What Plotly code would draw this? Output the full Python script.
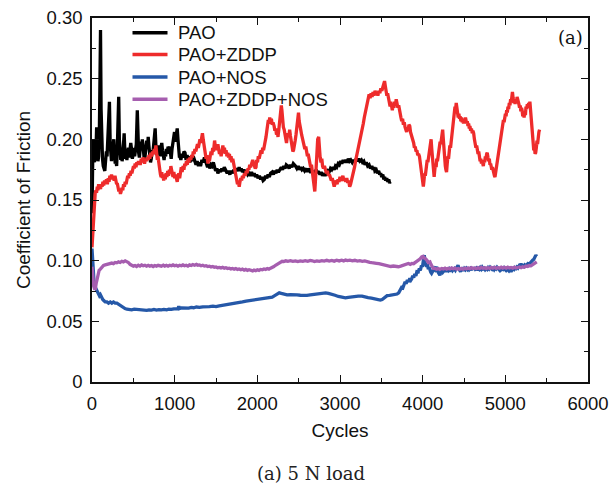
import plotly.graph_objects as go

# Friction traces at 5 N load: (cycle, coefficient of friction)
PAO = [
    (0, 0.139), (6, 0.172), (12, 0.200), (18, 0.188), (24, 0.196), (30, 0.181), (38, 0.192), (46, 0.185),
    (56, 0.210), (64, 0.190), (72, 0.182), (80, 0.186), (88, 0.200), (95, 0.240), (103, 0.290), (110, 0.225),
    (118, 0.190), (127, 0.184), (136, 0.178), (146, 0.176), (155, 0.174), (164, 0.182), (174, 0.190), (182, 0.186),
    (190, 0.196), (200, 0.205), (211, 0.231), (220, 0.196), (228, 0.186), (236, 0.182), (245, 0.190), (255, 0.197),
    (264, 0.200), (272, 0.188), (281, 0.180), (290, 0.182), (298, 0.178), (306, 0.192), (314, 0.215), (323, 0.235),
    (331, 0.200), (340, 0.186), (348, 0.183), (356, 0.190), (364, 0.182), (372, 0.186), (380, 0.195), (389, 0.205),
    (397, 0.191), (406, 0.184), (414, 0.188), (422, 0.183), (431, 0.189), (440, 0.193), (449, 0.185), (458, 0.190),
    (469, 0.197), (478, 0.192), (488, 0.184), (497, 0.187), (507, 0.193), (516, 0.186), (526, 0.190), (536, 0.196),
    (548, 0.224), (556, 0.200), (564, 0.189), (573, 0.185), (582, 0.192), (592, 0.198), (601, 0.193), (609, 0.200),
    (618, 0.194), (626, 0.187), (634, 0.182), (642, 0.186), (652, 0.193), (662, 0.199), (672, 0.192), (680, 0.202),
    (688, 0.195), (698, 0.186), (708, 0.181), (717, 0.184), (727, 0.191), (736, 0.188), (745, 0.196), (755, 0.200),
    (764, 0.209), (772, 0.196), (780, 0.187), (788, 0.192), (797, 0.189), (806, 0.195), (815, 0.190), (824, 0.186),
    (834, 0.193), (844, 0.197), (853, 0.191), (862, 0.186), (872, 0.183), (881, 0.189), (891, 0.186), (900, 0.192),
    (910, 0.188), (920, 0.194), (929, 0.190), (938, 0.194), (948, 0.188), (958, 0.184), (968, 0.192), (978, 0.198),
    (988, 0.202), (998, 0.206), (1008, 0.198), (1018, 0.204), (1031, 0.209), (1040, 0.200), (1050, 0.192), (1058, 0.185),
    (1064, 0.186), (1075, 0.183), (1088, 0.188), (1100, 0.185), (1112, 0.190), (1125, 0.189), (1138, 0.183), (1150, 0.187),
    (1162, 0.184), (1172, 0.186), (1185, 0.181), (1198, 0.185), (1210, 0.182), (1225, 0.186), (1242, 0.183), (1258, 0.179),
    (1272, 0.182), (1288, 0.178), (1300, 0.181), (1313, 0.178), (1330, 0.183), (1345, 0.181), (1360, 0.185), (1372, 0.182),
    (1383, 0.180), (1398, 0.177), (1412, 0.180), (1425, 0.176), (1440, 0.179), (1453, 0.178), (1468, 0.181), (1480, 0.177),
    (1495, 0.174), (1510, 0.176), (1523, 0.172), (1540, 0.175), (1555, 0.173), (1570, 0.176), (1585, 0.174), (1600, 0.177),
    (1617, 0.175), (1635, 0.172), (1650, 0.174), (1668, 0.171), (1685, 0.174), (1700, 0.172), (1715, 0.175), (1730, 0.173),
    (1748, 0.176), (1765, 0.174), (1780, 0.177), (1795, 0.174), (1805, 0.176), (1820, 0.173), (1838, 0.175), (1855, 0.172),
    (1870, 0.174), (1885, 0.171), (1898, 0.172), (1915, 0.170), (1930, 0.173), (1948, 0.170), (1962, 0.172), (1978, 0.169),
    (1992, 0.171), (2008, 0.168), (2025, 0.170), (2040, 0.167), (2055, 0.169), (2070, 0.166), (2086, 0.167), (2100, 0.170),
    (2115, 0.168), (2130, 0.171), (2145, 0.169), (2160, 0.172), (2180, 0.173), (2195, 0.171), (2210, 0.174), (2225, 0.172),
    (2240, 0.175), (2255, 0.173), (2273, 0.175), (2290, 0.177), (2305, 0.175), (2320, 0.178), (2335, 0.176), (2350, 0.179),
    (2367, 0.178), (2385, 0.176), (2400, 0.179), (2418, 0.177), (2435, 0.180), (2450, 0.178), (2461, 0.178), (2478, 0.176),
    (2495, 0.178), (2510, 0.175), (2525, 0.177), (2540, 0.175), (2555, 0.176), (2572, 0.174), (2590, 0.176), (2605, 0.173),
    (2620, 0.176), (2635, 0.174), (2648, 0.175), (2665, 0.172), (2680, 0.174), (2695, 0.172), (2710, 0.175), (2725, 0.173),
    (2742, 0.173), (2758, 0.171), (2772, 0.173), (2788, 0.170), (2805, 0.172), (2820, 0.170), (2836, 0.172), (2852, 0.174),
    (2868, 0.173), (2885, 0.176), (2900, 0.175), (2915, 0.177), (2930, 0.175), (2945, 0.178), (2960, 0.177), (2978, 0.180),
    (2992, 0.179), (3008, 0.182), (3022, 0.180), (3038, 0.183), (3055, 0.181), (3070, 0.183), (3085, 0.181), (3100, 0.184),
    (3115, 0.182), (3130, 0.183), (3148, 0.181), (3164, 0.183), (3180, 0.181), (3195, 0.184), (3210, 0.182), (3225, 0.184),
    (3240, 0.182), (3258, 0.183), (3272, 0.181), (3288, 0.182), (3302, 0.179), (3318, 0.181), (3335, 0.178), (3352, 0.179),
    (3368, 0.176), (3385, 0.178), (3400, 0.175), (3412, 0.177), (3422, 0.174), (3438, 0.175), (3452, 0.172), (3468, 0.174),
    (3480, 0.171), (3492, 0.172), (3505, 0.169), (3518, 0.171), (3530, 0.167), (3540, 0.169), (3552, 0.166), (3565, 0.168),
    (3578, 0.165), (3590, 0.167), (3600, 0.164), (3609, 0.165),
]

PAO_ZDDP = [
    (0, 0.111), (5, 0.118), (10, 0.128), (16, 0.138), (23, 0.144), (30, 0.150), (38, 0.155), (47, 0.158),
    (55, 0.156), (64, 0.161), (72, 0.158), (80, 0.163), (88, 0.160), (94, 0.162), (103, 0.159), (112, 0.163),
    (122, 0.161), (132, 0.165), (142, 0.162), (152, 0.166), (164, 0.164), (175, 0.167), (186, 0.163), (196, 0.168),
    (206, 0.165), (216, 0.170), (226, 0.167), (236, 0.171), (246, 0.168), (258, 0.169), (268, 0.166), (278, 0.170),
    (288, 0.165), (298, 0.163), (305, 0.164), (315, 0.160), (325, 0.157), (335, 0.159), (344, 0.155), (352, 0.157),
    (362, 0.160), (372, 0.158), (382, 0.163), (392, 0.161), (402, 0.165), (412, 0.163), (422, 0.167), (432, 0.170),
    (442, 0.168), (452, 0.172), (462, 0.170), (472, 0.174), (482, 0.172), (492, 0.175), (502, 0.178), (512, 0.176),
    (522, 0.180), (532, 0.177), (542, 0.181), (552, 0.179), (562, 0.182), (574, 0.180), (586, 0.180), (596, 0.184),
    (606, 0.181), (616, 0.185), (626, 0.182), (636, 0.180), (646, 0.184), (656, 0.182), (668, 0.185), (680, 0.183),
    (690, 0.187), (700, 0.184), (712, 0.189), (722, 0.186), (734, 0.190), (744, 0.188), (754, 0.192), (764, 0.190),
    (773, 0.195), (782, 0.188), (790, 0.183), (798, 0.186), (806, 0.179), (814, 0.177), (820, 0.175), (828, 0.171),
    (836, 0.169), (844, 0.173), (852, 0.168), (860, 0.171), (867, 0.166), (876, 0.170), (886, 0.167), (896, 0.172),
    (906, 0.169), (916, 0.174), (926, 0.170), (936, 0.175), (946, 0.172), (954, 0.178), (961, 0.176), (970, 0.172),
    (980, 0.169), (990, 0.173), (1000, 0.168), (1010, 0.171), (1020, 0.166), (1031, 0.165), (1040, 0.169), (1050, 0.172),
    (1060, 0.168), (1070, 0.174), (1080, 0.177), (1090, 0.173), (1102, 0.178), (1112, 0.175), (1122, 0.180), (1132, 0.178),
    (1142, 0.182), (1152, 0.179), (1162, 0.184), (1172, 0.181), (1184, 0.185), (1195, 0.183), (1205, 0.187), (1215, 0.185),
    (1225, 0.190), (1235, 0.188), (1245, 0.192), (1256, 0.190), (1266, 0.194), (1276, 0.196), (1286, 0.193), (1296, 0.198),
    (1306, 0.200), (1316, 0.197), (1326, 0.202), (1336, 0.205), (1345, 0.200), (1354, 0.195), (1362, 0.191), (1370, 0.188),
    (1380, 0.184), (1390, 0.187), (1403, 0.180), (1412, 0.184), (1420, 0.182), (1430, 0.186), (1440, 0.190), (1450, 0.187),
    (1460, 0.193), (1470, 0.190), (1483, 0.199), (1492, 0.194), (1500, 0.196), (1510, 0.191), (1523, 0.196), (1532, 0.192),
    (1542, 0.188), (1552, 0.191), (1562, 0.186), (1572, 0.190), (1583, 0.195), (1592, 0.190), (1602, 0.193), (1612, 0.188),
    (1622, 0.191), (1632, 0.186), (1643, 0.189), (1652, 0.185), (1662, 0.188), (1672, 0.183), (1682, 0.186), (1692, 0.181),
    (1703, 0.184), (1711, 0.181), (1720, 0.177), (1730, 0.173), (1740, 0.170), (1750, 0.166), (1760, 0.163), (1770, 0.165),
    (1781, 0.161), (1790, 0.165), (1800, 0.168), (1810, 0.166), (1820, 0.170), (1830, 0.168), (1844, 0.172), (1855, 0.170),
    (1866, 0.174), (1876, 0.172), (1886, 0.176), (1898, 0.175), (1908, 0.179), (1918, 0.177), (1930, 0.181), (1944, 0.183),
    (1955, 0.180), (1965, 0.178), (1975, 0.176), (1984, 0.177), (1992, 0.183), (2002, 0.181), (2012, 0.186), (2022, 0.184),
    (2032, 0.189), (2045, 0.191), (2055, 0.188), (2065, 0.193), (2075, 0.191), (2086, 0.197), (2095, 0.200), (2105, 0.202),
    (2115, 0.207), (2124, 0.212), (2133, 0.216), (2142, 0.213), (2150, 0.218), (2160, 0.214), (2170, 0.217), (2180, 0.212),
    (2190, 0.214), (2203, 0.211), (2212, 0.207), (2222, 0.209), (2232, 0.204), (2244, 0.205), (2250, 0.202), (2260, 0.208),
    (2270, 0.215), (2280, 0.222), (2290, 0.228), (2297, 0.224), (2305, 0.214), (2315, 0.210), (2325, 0.208), (2335, 0.203),
    (2344, 0.200), (2353, 0.197), (2362, 0.202), (2372, 0.205), (2382, 0.203), (2391, 0.208), (2400, 0.203), (2410, 0.198),
    (2420, 0.193), (2430, 0.190), (2438, 0.191), (2448, 0.194), (2458, 0.199), (2468, 0.204), (2478, 0.210), (2488, 0.216),
    (2498, 0.222), (2506, 0.215), (2515, 0.209), (2525, 0.208), (2535, 0.204), (2545, 0.200), (2555, 0.200), (2565, 0.196),
    (2575, 0.192), (2586, 0.194), (2596, 0.189), (2606, 0.186), (2615, 0.188), (2625, 0.183), (2635, 0.181), (2645, 0.177),
    (2655, 0.179), (2665, 0.174), (2672, 0.172), (2680, 0.168), (2688, 0.162), (2695, 0.157), (2702, 0.165), (2710, 0.180),
    (2720, 0.193), (2730, 0.200), (2742, 0.202), (2750, 0.192), (2760, 0.185), (2770, 0.181), (2780, 0.184), (2789, 0.178),
    (2800, 0.176), (2812, 0.178), (2824, 0.174), (2836, 0.172), (2848, 0.174), (2860, 0.170), (2872, 0.171), (2883, 0.169),
    (2895, 0.166), (2906, 0.168), (2918, 0.164), (2930, 0.161), (2942, 0.164), (2954, 0.166), (2965, 0.163), (2976, 0.167),
    (2988, 0.165), (3000, 0.169), (3012, 0.166), (3023, 0.167), (3035, 0.170), (3047, 0.166), (3058, 0.168), (3070, 0.165),
    (3082, 0.168), (3094, 0.164), (3105, 0.166), (3117, 0.161), (3128, 0.163), (3140, 0.166), (3152, 0.169), (3164, 0.172),
    (3176, 0.177), (3188, 0.182), (3200, 0.186), (3212, 0.189), (3224, 0.191), (3234, 0.194), (3246, 0.199), (3258, 0.204),
    (3270, 0.209), (3282, 0.213), (3294, 0.218), (3305, 0.222), (3316, 0.227), (3328, 0.231), (3340, 0.235), (3352, 0.237),
    (3364, 0.234), (3376, 0.238), (3388, 0.235), (3400, 0.239), (3412, 0.236), (3424, 0.240), (3436, 0.237), (3445, 0.239),
    (3458, 0.236), (3470, 0.240), (3482, 0.238), (3494, 0.242), (3506, 0.240), (3518, 0.244), (3530, 0.246), (3539, 0.248),
    (3548, 0.244), (3558, 0.240), (3567, 0.236), (3576, 0.238), (3586, 0.233), (3596, 0.230), (3606, 0.227), (3615, 0.231),
    (3624, 0.226), (3633, 0.224), (3642, 0.228), (3652, 0.226), (3662, 0.231), (3672, 0.229), (3680, 0.233), (3690, 0.230),
    (3700, 0.226), (3710, 0.228), (3718, 0.224), (3727, 0.222), (3737, 0.218), (3747, 0.215), (3757, 0.217), (3767, 0.212),
    (3777, 0.214), (3787, 0.210), (3797, 0.208), (3806, 0.206), (3814, 0.210), (3824, 0.207), (3834, 0.212), (3844, 0.211),
    (3853, 0.206), (3862, 0.204), (3872, 0.200), (3882, 0.198), (3891, 0.197), (3900, 0.193), (3910, 0.194), (3920, 0.190),
    (3930, 0.191), (3940, 0.187), (3950, 0.188), (3961, 0.186), (3970, 0.180), (3980, 0.175), (3990, 0.170), (3998, 0.166),
    (4008, 0.161), (4016, 0.166), (4024, 0.172), (4032, 0.170), (4040, 0.176), (4048, 0.180), (4055, 0.183), (4063, 0.181),
    (4071, 0.186), (4080, 0.190), (4088, 0.194), (4095, 0.198), (4102, 0.200), (4110, 0.192), (4118, 0.184), (4126, 0.176),
    (4133, 0.172), (4139, 0.169), (4147, 0.175), (4155, 0.180), (4163, 0.177), (4171, 0.184), (4179, 0.182), (4187, 0.187),
    (4195, 0.189), (4203, 0.194), (4211, 0.198), (4219, 0.196), (4227, 0.202), (4234, 0.205), (4242, 0.208), (4250, 0.200),
    (4258, 0.190), (4266, 0.183), (4274, 0.178), (4281, 0.175), (4289, 0.173), (4297, 0.180), (4305, 0.186), (4313, 0.184),
    (4321, 0.191), (4329, 0.195), (4337, 0.193), (4345, 0.199), (4352, 0.202), (4359, 0.205), (4367, 0.212), (4375, 0.218),
    (4383, 0.223), (4391, 0.227), (4399, 0.225), (4406, 0.230), (4414, 0.226), (4422, 0.222), (4430, 0.218), (4438, 0.221),
    (4446, 0.217), (4453, 0.219), (4462, 0.215), (4470, 0.218), (4478, 0.214), (4486, 0.217), (4494, 0.213), (4502, 0.217),
    (4510, 0.214), (4518, 0.218), (4523, 0.216), (4532, 0.213), (4540, 0.215), (4548, 0.211), (4556, 0.213), (4564, 0.209),
    (4572, 0.211), (4580, 0.207), (4590, 0.209), (4600, 0.205), (4608, 0.207), (4617, 0.205), (4626, 0.200), (4635, 0.196),
    (4644, 0.193), (4653, 0.195), (4662, 0.190), (4670, 0.188), (4678, 0.190), (4687, 0.186), (4695, 0.182), (4703, 0.184),
    (4711, 0.180), (4720, 0.182), (4727, 0.178), (4734, 0.178), (4742, 0.183), (4750, 0.181), (4758, 0.186), (4766, 0.184),
    (4774, 0.188), (4781, 0.189), (4790, 0.185), (4798, 0.182), (4806, 0.184), (4814, 0.179), (4822, 0.180), (4828, 0.178),
    (4836, 0.175), (4844, 0.177), (4852, 0.173), (4860, 0.172), (4868, 0.170), (4875, 0.169), (4883, 0.173), (4891, 0.176),
    (4899, 0.180), (4907, 0.184), (4915, 0.188), (4922, 0.191), (4930, 0.195), (4938, 0.199), (4946, 0.203), (4954, 0.206),
    (4962, 0.210), (4969, 0.213), (4977, 0.216), (4985, 0.214), (4993, 0.219), (5001, 0.221), (5009, 0.219), (5016, 0.224),
    (5024, 0.222), (5032, 0.227), (5040, 0.225), (5048, 0.230), (5056, 0.228), (5064, 0.233), (5072, 0.231), (5080, 0.236),
    (5086, 0.239), (5094, 0.234), (5102, 0.230), (5110, 0.233), (5118, 0.229), (5126, 0.233), (5134, 0.230), (5142, 0.235),
    (5150, 0.231), (5156, 0.233), (5164, 0.229), (5172, 0.226), (5180, 0.228), (5188, 0.223), (5196, 0.226), (5203, 0.224),
    (5211, 0.219), (5219, 0.222), (5227, 0.218), (5235, 0.223), (5243, 0.220), (5250, 0.227), (5258, 0.225), (5266, 0.229),
    (5274, 0.226), (5282, 0.230), (5290, 0.228), (5297, 0.231), (5305, 0.224), (5313, 0.215), (5321, 0.207), (5329, 0.200),
    (5337, 0.195), (5344, 0.191), (5352, 0.194), (5360, 0.188), (5367, 0.189), (5375, 0.193), (5383, 0.199), (5390, 0.196),
    (5398, 0.203), (5406, 0.206), (5414, 0.208),
]

PAO_NOS = [
    (0, 0.110), (8, 0.098), (16, 0.088), (25, 0.082), (34, 0.079), (41, 0.078), (52, 0.076), (64, 0.074),
    (78, 0.073), (90, 0.071), (101, 0.072), (115, 0.069), (130, 0.068), (145, 0.067), (160, 0.066), (180, 0.066),
    (200, 0.065), (221, 0.066), (240, 0.065), (260, 0.066), (280, 0.065), (301, 0.065), (320, 0.064), (340, 0.063),
    (360, 0.062), (380, 0.061), (400, 0.0605), (422, 0.060), (450, 0.0598), (480, 0.0595), (510, 0.060), (540, 0.0598),
    (570, 0.0594), (600, 0.0597), (630, 0.0592), (662, 0.059), (690, 0.0595), (720, 0.0592), (750, 0.0598), (780, 0.0593),
    (810, 0.0597), (840, 0.0594), (870, 0.0599), (903, 0.0595), (930, 0.060), (960, 0.0598), (990, 0.0603), (1020, 0.0601),
    (1040, 0.0605), (1050, 0.0625), (1058, 0.0605), (1080, 0.061), (1110, 0.0608), (1140, 0.0612), (1170, 0.0609), (1200, 0.0615),
    (1230, 0.0612), (1263, 0.0618), (1300, 0.0615), (1340, 0.062), (1380, 0.0618), (1420, 0.0622), (1463, 0.0625), (1500, 0.0622),
    (1540, 0.0628), (1580, 0.0632), (1620, 0.0635), (1664, 0.0638), (1700, 0.0645), (1740, 0.065), (1780, 0.0655), (1820, 0.066),
    (1864, 0.0666), (1900, 0.067), (1940, 0.0675), (1980, 0.068), (2020, 0.0682), (2060, 0.0686), (2105, 0.0688), (2140, 0.0695),
    (2180, 0.070), (2210, 0.0712), (2240, 0.0725), (2265, 0.0735), (2290, 0.073), (2320, 0.0722), (2360, 0.0718), (2400, 0.072),
    (2440, 0.0716), (2480, 0.0718), (2520, 0.0715), (2560, 0.0712), (2600, 0.0714), (2640, 0.0718), (2680, 0.0722), (2720, 0.0725),
    (2760, 0.0728), (2800, 0.0732), (2826, 0.0735), (2860, 0.073), (2900, 0.0725), (2940, 0.0715), (2980, 0.0705), (3020, 0.070),
    (3066, 0.0694), (3100, 0.0698), (3140, 0.0702), (3180, 0.0706), (3220, 0.0708), (3266, 0.0707), (3300, 0.070), (3340, 0.0695),
    (3380, 0.0692), (3420, 0.0688), (3460, 0.0682), (3487, 0.0675), (3510, 0.068), (3540, 0.070), (3570, 0.0712), (3600, 0.0714),
    (3627, 0.0716), (3660, 0.0718), (3690, 0.0725), (3710, 0.0735), (3727, 0.0757), (3745, 0.078), (3760, 0.0775), (3775, 0.081),
    (3788, 0.0826), (3800, 0.081), (3815, 0.084), (3830, 0.0825), (3845, 0.0855), (3858, 0.084), (3868, 0.085), (3880, 0.0875),
    (3892, 0.086), (3905, 0.089), (3918, 0.0875), (3930, 0.091), (3947, 0.0908), (3960, 0.0935), (3972, 0.092), (3985, 0.096),
    (3998, 0.095), (4008, 0.100), (4020, 0.1046), (4030, 0.098), (4040, 0.0965), (4048, 0.095), (4058, 0.097), (4068, 0.093),
    (4078, 0.0945), (4088, 0.0915), (4098, 0.0905), (4108, 0.0895), (4120, 0.0915), (4130, 0.093), (4140, 0.0935), (4150, 0.0925),
    (4160, 0.0945), (4168, 0.095), (4178, 0.0915), (4188, 0.090), (4198, 0.0895), (4208, 0.088), (4220, 0.0905), (4232, 0.092),
    (4244, 0.0905), (4256, 0.0915), (4268, 0.0925), (4280, 0.0918), (4288, 0.0908), (4300, 0.0925), (4312, 0.0918), (4324, 0.0932),
    (4336, 0.0922), (4348, 0.093), (4360, 0.0918), (4372, 0.0928), (4384, 0.0935), (4396, 0.0922), (4408, 0.0938), (4418, 0.095),
    (4428, 0.0963), (4438, 0.0935), (4448, 0.092), (4458, 0.091), (4468, 0.0925), (4480, 0.0932), (4492, 0.0918), (4504, 0.0935),
    (4516, 0.0925), (4528, 0.0938), (4540, 0.0928), (4552, 0.0942), (4564, 0.0926), (4576, 0.0935), (4588, 0.0922), (4600, 0.094),
    (4612, 0.0928), (4624, 0.0945), (4636, 0.093), (4648, 0.0938), (4660, 0.0922), (4672, 0.0936), (4684, 0.0928), (4696, 0.0942),
    (4708, 0.093), (4720, 0.0945), (4732, 0.0932), (4744, 0.0938), (4756, 0.0925), (4768, 0.0935), (4780, 0.0928), (4792, 0.0942),
    (4804, 0.0932), (4816, 0.0945), (4828, 0.0935), (4840, 0.0928), (4852, 0.0938), (4864, 0.0926), (4876, 0.094), (4888, 0.0932),
    (4900, 0.0945), (4912, 0.0935), (4924, 0.0928), (4936, 0.0918), (4948, 0.0925), (4960, 0.0935), (4972, 0.0928), (4984, 0.094),
    (4996, 0.0928), (5008, 0.092), (5020, 0.0932), (5032, 0.0922), (5044, 0.0915), (5056, 0.0925), (5069, 0.0908), (5080, 0.0925),
    (5092, 0.0935), (5104, 0.0928), (5116, 0.0942), (5128, 0.0935), (5140, 0.0948), (5152, 0.094), (5164, 0.0955), (5176, 0.0945),
    (5189, 0.0977), (5200, 0.0955), (5212, 0.096), (5224, 0.0952), (5236, 0.0965), (5248, 0.0958), (5260, 0.097), (5272, 0.0975),
    (5284, 0.0968), (5296, 0.098), (5308, 0.0988), (5320, 0.0995), (5332, 0.1005), (5344, 0.101), (5356, 0.1025), (5369, 0.1046),
    (5378, 0.1035),
]

PAO_ZDDP_NOS = [
    (0, 0.095), (6, 0.088), (12, 0.082), (20, 0.079), (30, 0.077), (41, 0.077), (50, 0.081), (60, 0.085),
    (72, 0.089), (86, 0.092), (101, 0.093), (120, 0.095), (140, 0.096), (160, 0.0965), (180, 0.097), (200, 0.0975),
    (221, 0.0977), (240, 0.098), (260, 0.0975), (280, 0.0985), (300, 0.0982), (320, 0.099), (340, 0.0985), (360, 0.0995),
    (380, 0.099), (401, 0.0999), (420, 0.0992), (440, 0.0985), (460, 0.097), (480, 0.096), (501, 0.0955), (520, 0.096),
    (540, 0.0952), (560, 0.0962), (580, 0.0955), (600, 0.0965), (620, 0.0958), (640, 0.0962), (660, 0.0955), (680, 0.0962),
    (700, 0.0955), (720, 0.096), (740, 0.0952), (760, 0.096), (780, 0.0955), (800, 0.0962), (820, 0.0958), (840, 0.0955),
    (862, 0.0963), (880, 0.0955), (900, 0.0962), (920, 0.0955), (940, 0.0962), (960, 0.0958), (980, 0.0965), (1000, 0.0958),
    (1020, 0.0962), (1040, 0.0955), (1060, 0.0962), (1080, 0.0958), (1100, 0.0965), (1120, 0.0958), (1140, 0.0962), (1160, 0.0955),
    (1180, 0.0965), (1200, 0.096), (1220, 0.0968), (1240, 0.0962), (1263, 0.0969), (1280, 0.0962), (1300, 0.0965), (1320, 0.0958),
    (1340, 0.0962), (1360, 0.0955), (1380, 0.0958), (1400, 0.0952), (1420, 0.0955), (1440, 0.0948), (1460, 0.0952), (1480, 0.0945),
    (1500, 0.0948), (1520, 0.0942), (1543, 0.0944), (1560, 0.094), (1580, 0.0945), (1600, 0.0938), (1620, 0.0942), (1640, 0.0935),
    (1660, 0.0938), (1680, 0.0932), (1700, 0.0936), (1720, 0.093), (1740, 0.0935), (1760, 0.0928), (1780, 0.0932), (1800, 0.0925),
    (1820, 0.093), (1840, 0.0922), (1860, 0.0928), (1880, 0.092), (1900, 0.0925), (1920, 0.0918), (1944, 0.0916), (1960, 0.0922),
    (1980, 0.0918), (2000, 0.0925), (2020, 0.092), (2040, 0.0928), (2060, 0.0925), (2080, 0.0932), (2100, 0.0928), (2120, 0.0935),
    (2140, 0.093), (2160, 0.0938), (2184, 0.0944), (2200, 0.0952), (2220, 0.0962), (2240, 0.0972), (2260, 0.098), (2280, 0.0988),
    (2300, 0.0995), (2320, 0.0992), (2345, 0.0999), (2370, 0.0995), (2400, 0.1), (2430, 0.0995), (2460, 0.0998), (2490, 0.0992),
    (2520, 0.0998), (2550, 0.0994), (2580, 0.1), (2610, 0.0995), (2640, 0.1002), (2665, 0.0999), (2690, 0.0993), (2720, 0.0998),
    (2750, 0.0994), (2780, 0.1), (2810, 0.0996), (2840, 0.1003), (2870, 0.0997), (2900, 0.1002), (2930, 0.0996), (2960, 0.1004),
    (2990, 0.0998), (3020, 0.1004), (3045, 0.0998), (3066, 0.1005), (3090, 0.1), (3120, 0.1004), (3150, 0.0998), (3180, 0.1003),
    (3210, 0.0996), (3240, 0.1), (3270, 0.0994), (3300, 0.0998), (3330, 0.099), (3360, 0.0986), (3386, 0.0983), (3410, 0.0978),
    (3440, 0.0978), (3470, 0.0975), (3500, 0.097), (3530, 0.0962), (3560, 0.0958), (3587, 0.0955), (3615, 0.0952), (3645, 0.0956),
    (3675, 0.095), (3707, 0.095), (3735, 0.0955), (3765, 0.096), (3795, 0.0965), (3827, 0.0977), (3850, 0.097), (3868, 0.0977),
    (3890, 0.0975), (3910, 0.0985), (3930, 0.099), (3950, 0.1), (3970, 0.1015), (3987, 0.103), (4000, 0.1025), (4008, 0.1032),
    (4020, 0.1025), (4035, 0.101), (4050, 0.1005), (4068, 0.0985), (4088, 0.099), (4100, 0.097), (4115, 0.095), (4128, 0.0936),
    (4148, 0.0936), (4170, 0.093), (4190, 0.0935), (4210, 0.0928), (4230, 0.0936), (4250, 0.0932), (4270, 0.0938), (4290, 0.093),
    (4310, 0.0937), (4330, 0.0932), (4350, 0.094), (4370, 0.0933), (4390, 0.0938), (4410, 0.093), (4430, 0.0936), (4450, 0.093),
    (4468, 0.0936), (4490, 0.093), (4510, 0.0938), (4530, 0.0932), (4550, 0.094), (4570, 0.0934), (4590, 0.0942), (4610, 0.0935),
    (4630, 0.094), (4650, 0.0934), (4670, 0.0942), (4690, 0.0936), (4710, 0.0944), (4730, 0.0937), (4750, 0.0942), (4770, 0.0935),
    (4790, 0.0943), (4810, 0.0936), (4830, 0.0944), (4850, 0.0938), (4870, 0.0945), (4890, 0.0937), (4910, 0.0944), (4930, 0.0938),
    (4950, 0.0946), (4970, 0.0939), (4990, 0.0945), (5010, 0.0938), (5030, 0.0946), (5050, 0.094), (5069, 0.0944), (5090, 0.0938),
    (5110, 0.0946), (5130, 0.094), (5149, 0.0944), (5170, 0.0948), (5190, 0.0942), (5210, 0.095), (5230, 0.0946), (5250, 0.0955),
    (5270, 0.0952), (5290, 0.096), (5310, 0.0958), (5330, 0.0966), (5350, 0.0975), (5369, 0.0985), (5380, 0.099),
]

SERIES_NAMES = ["PAO", "PAO+ZDDP", "PAO+NOS", "PAO+ZDDP+NOS"]
SERIES_COLORS = ["#000000", "#EE2B2B", "#2558A8", "#A65EAF"]

X_TICKS = [0, 1000, 2000, 3000, 4000, 5000, 6000]
Y_TICKS = [0, 0.05, 0.10, 0.15, 0.20, 0.25, 0.30]
Y_TICK_TEXT = ["0", "0.05", "0.10", "0.15", "0.20", "0.25", "0.30"]

SANS = "Liberation Sans, Arial, sans-serif"
SERIF = "DejaVu Serif, Liberation Serif, serif"

# plot-area geometry in pixels, used to place the in-plot key
W, H = 609, 486
ML, MR, MT, MB = 92, 21, 18, 104
PW, PH = W - ML - MR, H - MT - MB


def px_to_paper(px, py):
    return (px - ML) / PW, (H - MB - py) / PH


fig = go.Figure()
for name, color, data in zip(SERIES_NAMES, SERIES_COLORS, [PAO, PAO_ZDDP, PAO_NOS, PAO_ZDDP_NOS]):
    xs, ys = zip(*data)
    fig.add_trace(go.Scatter(
        x=list(xs), y=list(ys), mode="lines", name=name,
        line=dict(color=color, width=3.3), hoverinfo="skip", showlegend=False,
    ))

# key: a short line sample and a label for each series
shapes, annotations = [], []
key_rows = [32.7, 54.5, 77.0, 99.3]
for name, color, row in zip(SERIES_NAMES, SERIES_COLORS, key_rows):
    x0, y0 = px_to_paper(132.5, row)
    x1, _ = px_to_paper(167.5, row)
    shapes.append(dict(type="line", xref="paper", yref="paper", x0=x0, x1=x1, y0=y0, y1=y0,
                       line=dict(color=color, width=3.5)))
    tx, ty = px_to_paper(176, row)
    annotations.append(dict(text=name, xref="paper", yref="paper", x=tx, y=ty,
                            xanchor="left", yanchor="middle", showarrow=False,
                            font=dict(family=SANS, size=18.5, color="#111111")))

ax, ay = px_to_paper(585, 37)
annotations.append(dict(text="(a)", xref="paper", yref="paper", x=ax, y=ay,
                        xanchor="right", yanchor="middle", showarrow=False,
                        font=dict(family=SERIF, size=18, color="#111111")))
cx, cy = px_to_paper(311, 473)
annotations.append(dict(text="(a) 5 N load", xref="paper", yref="paper", x=cx, y=cy,
                        xanchor="center", yanchor="middle", showarrow=False,
                        font=dict(family=SERIF, size=18, color="#222222")))

axis_common = dict(
    showline=True, linecolor="#111111", linewidth=1.5, mirror="allticks",
    ticks="inside", ticklen=7, tickwidth=1.3, tickcolor="#111111",
    showgrid=False, zeroline=False, ticklabeloverflow="allow", automargin=False,
    tickfont=dict(family=SANS, size=18.5, color="#111111"),
)

fig.update_layout(
    width=W, height=H,
    margin=dict(l=ML, r=MR, t=MT, b=MB, autoexpand=False),
    paper_bgcolor="white", plot_bgcolor="white",
    font=dict(family=SANS, size=19, color="#111111"),
    xaxis=dict(
        range=[0, 6000], tickvals=X_TICKS, ticklabelstandoff=4,
        minor=dict(dtick=500, ticks="inside", ticklen=4, tickwidth=1.2, tickcolor="#111111"),
        title=dict(text="Cycles", font=dict(family=SANS, size=19), standoff=11),
        **axis_common,
    ),
    yaxis=dict(
        range=[0, 0.30], tickvals=Y_TICKS, ticktext=Y_TICK_TEXT, ticklabelstandoff=4,
        minor=dict(dtick=0.025, ticks="inside", ticklen=4, tickwidth=1.2, tickcolor="#111111"),
        title=dict(text="Coefficient of Friction", font=dict(family=SANS, size=19), standoff=11),
        **axis_common,
    ),
    shapes=shapes,
    annotations=annotations,
    showlegend=False,
)

fig.write_html("out.html")
